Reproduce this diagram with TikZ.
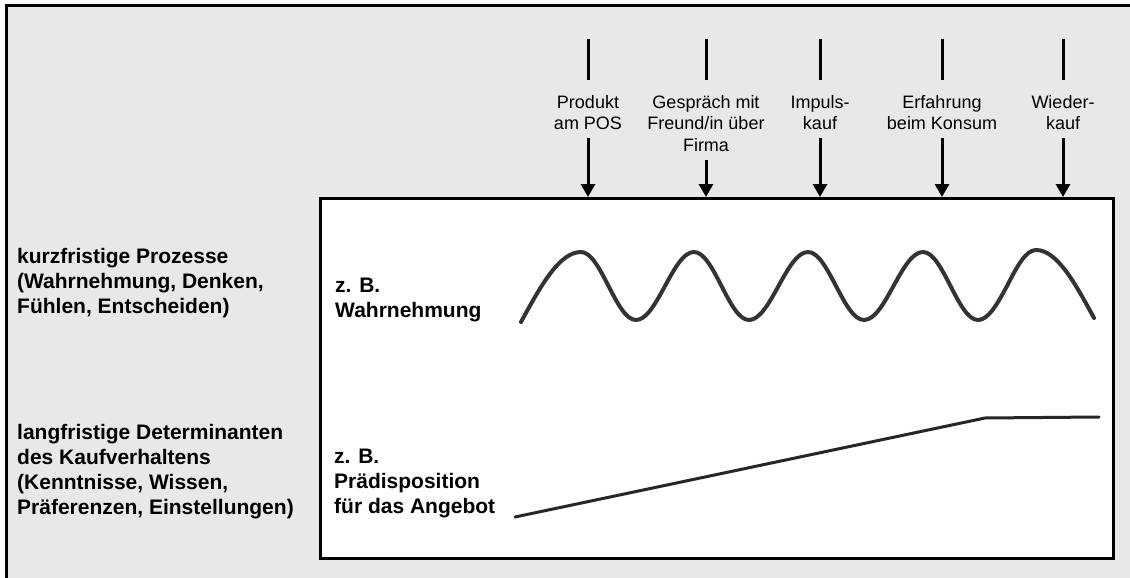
\documentclass[tikz,border=0pt]{standalone}
\usepackage{fontspec}
\setmainfont{Liberation Sans}
\usetikzlibrary{arrows.meta}
\definecolor{bg}{HTML}{E8E8E8}
\definecolor{curvecol}{HTML}{333333}
\begin{document}
\begin{tikzpicture}[x=1pt,y=-1pt,
  frameline/.style={line width=3pt},
  stub/.style={line width=3pt},
  arr/.style={line width=3pt,-{Triangle[width=14pt,length=13pt]},shorten <=8pt},
  toplabel/.style={font=\fontsize{18}{21.5}\selectfont, align=center, inner sep=0pt, anchor=north},
  sidelabel/.style={font=\fontsize{21}{25}\selectfont\bfseries, align=left, inner sep=0pt, anchor=west},
  boxstyle/.style={draw, line width=3pt, fill=white, inner sep=0pt, anchor=north west},
  curveline/.style={curvecol, line width=4pt, line cap=round, line join=round},
  straightline/.style={black!85, line width=3pt, line cap=round, line join=round},
]
\useasboundingbox (0,0) rectangle (1130,578);
\fill[white] (0,0) rectangle (1130,578);
\fill[bg] (6,6) rectangle (1135,583);
\draw[frameline] (6,583) -- (6,6) -- (1135,6);

% inner box
\node[boxstyle, minimum width=793pt, minimum height=360pt] (box) at (319,197) {};

% top labels with stubs and arrows
\foreach \i/\x/\t in {1/588/{Produkt\\am POS},
                      2/706/{Gespräch mit\\Freund/in über\\Firma},
                      3/820/{Impuls-\\kauf},
                      4/942/{Erfahrung\\beim Konsum},
                      5/1063/{Wieder-\\kauf}}{
  \coordinate (st\i) at (\x,39);
  \coordinate (sb\i) at (\x,80);
  \draw[stub] (st\i) -- (sb\i);
  \node[toplabel] (l\i) at (\x,95) {\t};
  \draw[arr] (l\i) -- (l\i |- box.north);
}

% side labels
\node[sidelabel] (k1) at (17,283) {kurzfristige Prozesse\\(Wahrnehmung, Denken,\\Fühlen, Entscheiden)};
\node[sidelabel] (k2) at (17,472) {langfristige Determinanten\\des Kaufverhaltens\\(Kenntnisse, Wissen,\\Präferenzen, Einstellungen)};
\node[sidelabel] (z1) at (335,300) {z. B.\\Wahrnehmung};
\node[sidelabel] (z2) at (334,483) {z. B.\\Prädisposition\\für das Angebot};

% wave
\draw[curveline] (521,322) sin (581,252) cos (608.5,286) sin (636,320)
  cos (665,286) sin (694,252) cos (721.5,286) sin (749,320)
  cos (778.5,286) sin (808,252) cos (836,286) sin (864,320)
  cos (893.5,286) sin (923,252) cos (950.5,286) sin (978,320)
  cos (1007,286) sin (1036,250) cos (1094,318);

% predisposition line
\draw[straightline] (515,517) -- (985,418) -- (1099,417);
\end{tikzpicture}
\end{document}
